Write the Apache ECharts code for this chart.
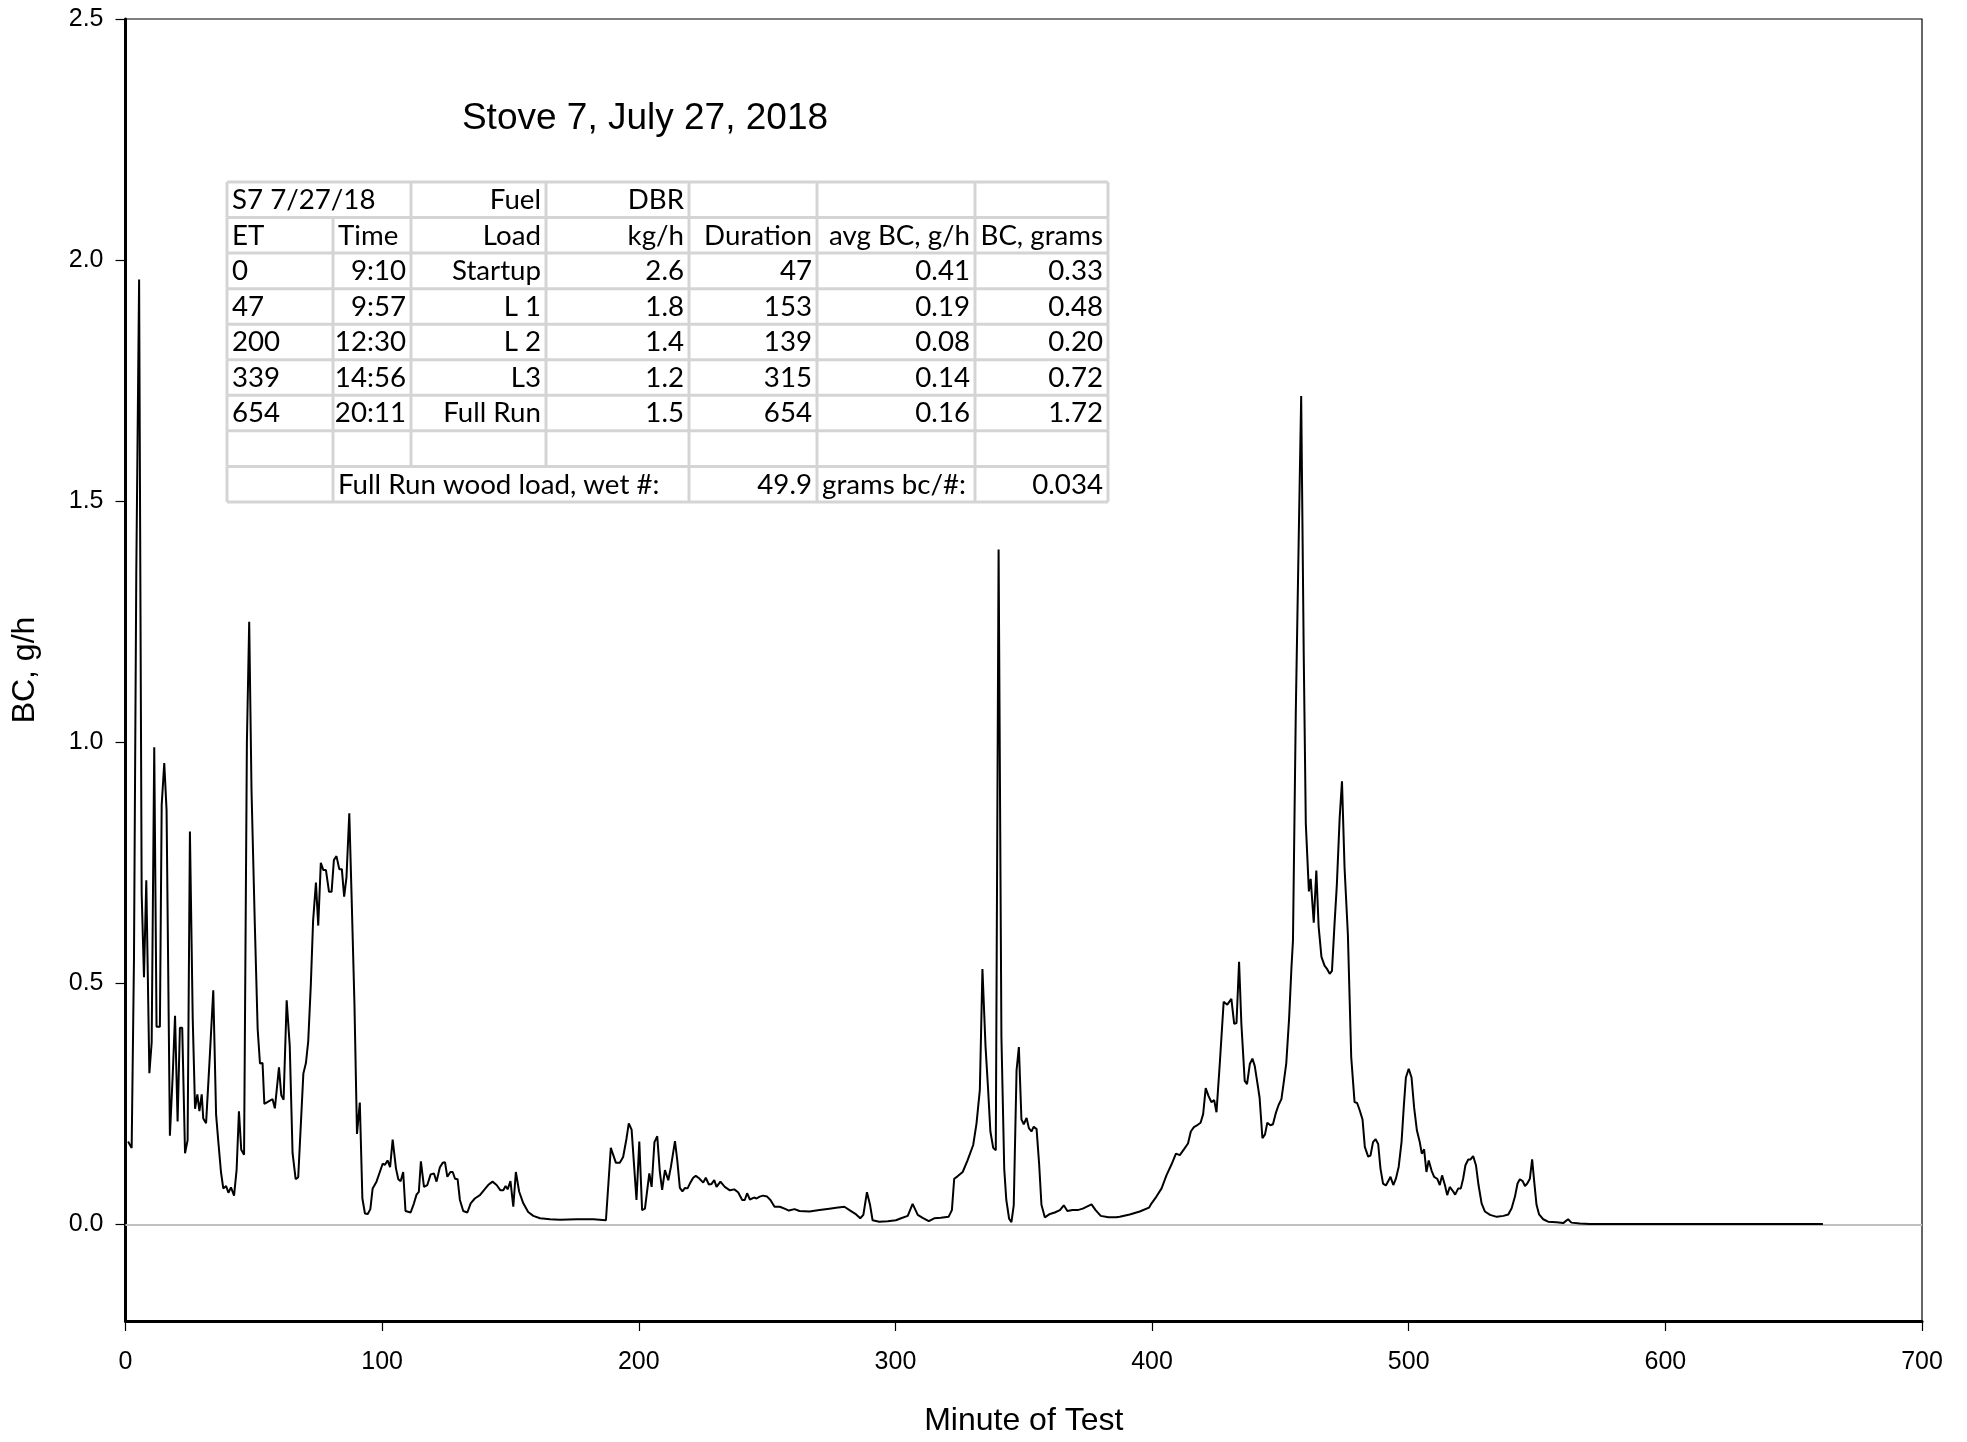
<!DOCTYPE html>
<html>
<head>
<meta charset="utf-8">
<script src="https://cdn.jsdelivr.net/npm/echarts@6/dist/echarts.min.js"></script>
<style>
html,body{margin:0;padding:0;background:#fff;}
#chart{width:1967px;height:1442px;}
</style>
</head>
<body>
<div id="chart"></div>
<script>
// ---------------- data ----------------
const minutes = [
1,2.4,3.3,4.2,5.3,6.3,7.2,8.1,9.3,10.2,11.2,12.1,13.4,14.1,15.1,16.0,17.3,18.4,19.3,20.3,21.2,22.1,23.2,24.2,25.1,26.2,27.1,28.0,28.8,29.7,30.3,31.4,32.9,34.2,35.3,36.2,37.2,38.1,39.2,40.1,41.1,42.3,43.3,44.2,45.1,46.2,47.3,48.2,49.1,50.4,51.5,52.4,53.4,54.1,55.6,57.3,58.2,59.8,60.7,61.6,62.8,64.0,65.1,66.3,67.3,69.3,70.3,71.2,72.2,73.1,74.2,75.1,76.1,77.1,78.1,79.3,80.3,81.2,82.2,83.3,84.3,85.2,86.1,87.2,88.1,89.2,90.2,91.3,92.3,93.3,94.4,95.4,96.3,97.8,99.1,100.2,101.1,102.1,103.1,104.1,105.4,106.3,107.2,108.2,109.1,111.1,112.4,113.4,114.3,115.1,116.3,117.6,118.9,120.2,121.2,122.5,123.6,124.5,125.4,126.6,127.5,128.4,129.4,130.3,131.6,133.2,134.5,136.1,138.1,139.6,141.3,143.0,144.6,146.1,147.2,148.1,148.9,150.0,151.1,152.1,153.4,155.0,156.9,158.9,161.5,165.4,169.3,175.8,182.3,187.2,189.1,191.1,192.6,193.9,195.2,196.1,197.2,199.1,200.2,201.3,202.4,204.1,205.0,206.1,207.2,208.2,209.1,210.2,211.5,212.5,214.1,215.0,216.0,217.0,218.0,219.0,219.9,221.2,222.2,223.5,225.1,226.1,227.3,228.3,229.4,230.3,231.8,233.5,235.5,237.2,238.7,240.3,241.3,242.2,243.3,244.9,245.9,247.1,248.4,250.0,251.3,252.9,254.9,256.8,258.5,260.7,262.6,266.5,270.4,274.3,276.9,280.1,282.7,284.7,286.3,287.5,288.9,290.1,291.1,293.7,297.0,300.2,302.2,304.8,306.7,308.7,310.6,313.0,315.1,317.7,320.7,322.0,322.9,324.2,326.2,328.1,330.3,331.6,332.9,333.9,335.1,336.1,337.0,338.1,339.1,340.2,341.3,342.4,343.2,344.3,345.2,346.1,347.2,348.1,349.1,350.0,351.1,352.0,353.0,353.9,355.0,356.0,356.9,358.2,360.2,362.1,364.1,365.6,367,369,371,373,376.4,378,380,383,386,387.4,391.3,395.2,398.8,399.8,401.7,403.7,405.6,407.6,409.3,410.8,412.4,414.0,415.1,416.3,417.3,418.9,419.9,420.9,421.9,423.1,424.2,425.1,426.4,427.9,429.3,430.9,432.0,432.9,433.9,434.8,436.1,437.0,438.1,439.1,440.0,441.0,441.9,443.0,444.0,444.9,446.1,447.1,448.2,449.3,450.4,451.3,452.3,453.4,454.3,454.9,456.0,457.1,458.1,459.1,459.9,461.1,461.8,463.0,464.0,464.9,466.0,467.2,468.3,469.2,470.1,471.1,472.0,473.1,474.0,475.0,476.3,477.6,478.9,479.9,480.9,482.0,482.9,484.2,485.1,486.1,487.1,488.1,489.0,490.0,491.1,492.0,492.9,494.0,495.0,496.1,497.2,498.1,498.9,500.0,501.1,502.1,503.2,504.3,505.1,506.0,506.9,507.8,508.9,509.9,511.1,512.1,513.0,514.1,515.0,516.0,517.0,518.1,519.3,520.3,521.2,522.1,523.2,524.1,525.1,526.2,527.2,528.4,529.7,531.7,534.3,536.9,538.8,540.1,541.4,542.4,543.3,544.4,545.3,546.2,547.2,548.1,548.9,549.8,550.8,552.4,554.3,557.6,560.2,562.1,563.4,566.7,570.5,580,600,620,640,661.4
];
const bcGph = [
0.172,0.159,0.55,1.35,1.96,0.686,0.513,0.714,0.314,0.378,0.99,0.41,0.41,0.87,0.957,0.86,0.184,0.31,0.433,0.214,0.408,0.408,0.148,0.175,0.815,0.426,0.24,0.27,0.235,0.27,0.22,0.21,0.354,0.486,0.228,0.17,0.109,0.075,0.08,0.066,0.077,0.06,0.114,0.235,0.155,0.145,1.0,1.25,0.90,0.62,0.405,0.334,0.335,0.25,0.255,0.26,0.241,0.326,0.268,0.259,0.465,0.37,0.148,0.094,0.098,0.313,0.335,0.38,0.496,0.63,0.709,0.62,0.75,0.735,0.735,0.69,0.69,0.756,0.764,0.737,0.737,0.68,0.72,0.853,0.68,0.46,0.188,0.253,0.054,0.023,0.022,0.032,0.075,0.089,0.109,0.126,0.124,0.133,0.119,0.176,0.116,0.094,0.09,0.109,0.028,0.025,0.044,0.062,0.068,0.131,0.078,0.082,0.104,0.106,0.089,0.119,0.128,0.129,0.099,0.109,0.109,0.095,0.094,0.051,0.028,0.025,0.044,0.054,0.061,0.071,0.082,0.089,0.082,0.071,0.071,0.08,0.073,0.09,0.037,0.109,0.068,0.044,0.026,0.018,0.013,0.011,0.01,0.011,0.011,0.009,0.159,0.128,0.128,0.14,0.178,0.21,0.197,0.051,0.172,0.03,0.033,0.106,0.078,0.171,0.183,0.109,0.072,0.113,0.092,0.119,0.173,0.133,0.076,0.069,0.076,0.075,0.085,0.097,0.101,0.096,0.087,0.097,0.083,0.084,0.092,0.078,0.089,0.078,0.071,0.073,0.067,0.051,0.051,0.065,0.052,0.056,0.054,0.058,0.06,0.058,0.051,0.037,0.037,0.033,0.029,0.032,0.028,0.027,0.03,0.033,0.035,0.037,0.028,0.021,0.013,0.02,0.067,0.041,0.009,0.006,0.007,0.009,0.013,0.018,0.043,0.02,0.014,0.007,0.013,0.014,0.016,0.03,0.095,0.1,0.109,0.133,0.165,0.21,0.28,0.53,0.37,0.281,0.193,0.159,0.154,1.40,0.389,0.115,0.051,0.012,0.005,0.04,0.32,0.368,0.218,0.208,0.221,0.2,0.193,0.203,0.198,0.125,0.041,0.015,0.022,0.025,0.03,0.04,0.028,0.03,0.03,0.033,0.042,0.03,0.018,0.015,0.015,0.016,0.021,0.027,0.035,0.044,0.058,0.075,0.102,0.125,0.147,0.144,0.156,0.168,0.193,0.202,0.205,0.211,0.229,0.283,0.268,0.254,0.258,0.233,0.335,0.462,0.456,0.468,0.416,0.418,0.545,0.416,0.298,0.291,0.333,0.344,0.329,0.295,0.263,0.179,0.187,0.211,0.206,0.208,0.231,0.248,0.26,0.295,0.335,0.428,0.532,0.589,1.063,1.41,1.718,1.179,0.832,0.691,0.717,0.626,0.734,0.618,0.555,0.537,0.529,0.52,0.526,0.624,0.705,0.844,0.919,0.74,0.601,0.347,0.254,0.252,0.237,0.218,0.161,0.141,0.143,0.171,0.177,0.167,0.116,0.085,0.081,0.09,0.099,0.082,0.095,0.12,0.171,0.246,0.305,0.323,0.305,0.243,0.195,0.171,0.147,0.156,0.109,0.133,0.112,0.099,0.095,0.082,0.102,0.082,0.061,0.078,0.071,0.062,0.075,0.075,0.095,0.123,0.135,0.135,0.142,0.123,0.082,0.044,0.027,0.02,0.016,0.018,0.021,0.034,0.058,0.085,0.094,0.09,0.08,0.085,0.095,0.135,0.089,0.041,0.021,0.011,0.006,0.005,0.003,0.011,0.004,0.002,0.001,0.001,0.001,0.001,0.001,0.001
];
const yTicks = [0, 0.5, 1.0, 1.5, 2.0, 2.5];
const chartTitle = "Stove 7, July 27, 2018";
const xName = "Minute of Test";
const yName = "BC, g/h";

// summary table (text content)
const tableRows = [
  ["S7 7/27/18", "", "Fuel", "DBR", "", "", ""],
  ["ET", "Time", "Load", "kg/h", "Duration", "avg BC, g/h", "BC, grams"],
  ["0", "9:10", "Startup", "2.6", "47", "0.41", "0.33"],
  ["47", "9:57", "L 1", "1.8", "153", "0.19", "0.48"],
  ["200", "12:30", "L 2", "1.4", "139", "0.08", "0.20"],
  ["339", "14:56", "L3", "1.2", "315", "0.14", "0.72"],
  ["654", "20:11", "Full Run", "1.5", "654", "0.16", "1.72"],
  ["", "", "", "", "", "", ""],
  ["", "Full Run wood load, wet #:", "", "", "49.9", "grams bc/#:", "0.034"]
];
const tableAlign = [
  ["l", "l", "r", "r", "r", "r", "r"],
  ["l", "l", "r", "r", "r", "r", "r"],
  ["l", "r", "r", "r", "r", "r", "r"],
  ["l", "r", "r", "r", "r", "r", "r"],
  ["l", "r", "r", "r", "r", "r", "r"],
  ["l", "r", "r", "r", "r", "r", "r"],
  ["l", "r", "r", "r", "r", "r", "r"],
  ["l", "l", "l", "l", "l", "l", "l"],
  ["l", "l", "l", "l", "r", "l", "r"]
];
// cells whose left border is omitted (merged with previous cell): [row, col]
const mergedLeft = [[0, 1], [8, 2], [8, 3]];

// ---------------- layout ----------------
const colEdges = [227, 333, 411, 546, 689, 817, 975, 1108];
const rowTop = 182, rowH = 35.55;
const tableFont = "Lato, 'Open Sans', sans-serif";
const tableFontSize = 26;

// measure to stretch table text horizontally like the original
const cv = document.createElement('canvas').getContext('2d');
cv.font = tableFontSize + "px " + tableFont;
const sx = 141 / cv.measureText("avg BC, g/h").width;

const graphics = [];
const borderColor = '#d4d4d4';
const nRows = tableRows.length;
// horizontal lines
for (let r = 0; r <= nRows; r++) {
  graphics.push({type:'line', silent:true, z:10,
    shape:{x1:colEdges[0], y1:rowTop + r*rowH, x2:colEdges[colEdges.length-1], y2:rowTop + r*rowH},
    style:{stroke:borderColor, lineWidth:3}});
}
// vertical segments
const isMerged = (r,c) => mergedLeft.some(m => m[0]===r && m[1]===c);
for (let r = 0; r < nRows; r++) {
  for (let c = 0; c < colEdges.length; c++) {
    if (isMerged(r,c)) continue;
    graphics.push({type:'line', silent:true, z:10,
      shape:{x1:colEdges[c], y1:rowTop + r*rowH, x2:colEdges[c], y2:rowTop + (r+1)*rowH},
      style:{stroke:borderColor, lineWidth:3}});
  }
}
// text
for (let r = 0; r < nRows; r++) {
  for (let c = 0; c < 7; c++) {
    const t = tableRows[r][c];
    if (!t) continue;
    const al = tableAlign[r][c];
    const x = al === 'l' ? colEdges[c] + 5 : colEdges[c+1] - 5;
    graphics.push({type:'text', silent:true, z:11,
      x: x, y: rowTop + r*rowH + rowH/2 + 1, scaleX: sx,
      style:{text:t, x:0, y:0, fill:'#000', font: tableFontSize + "px " + tableFont,
        textAlign: al === 'l' ? 'left' : 'right', textVerticalAlign:'middle'}});
  }
}
// chart title
graphics.push({type:'text', silent:true, z:11, x:645, y:119,
  style:{text:chartTitle, x:0, y:0, fill:'#000', font:"37px 'Liberation Sans', Arial, sans-serif",
    textAlign:'center', textVerticalAlign:'middle'}});

const chart = echarts.init(document.getElementById('chart'), null, {renderer:'canvas'});
const axisFont = "'Liberation Sans', Arial, sans-serif";
chart.setOption({
  animation: false,
  backgroundColor: '#fff',
  grid: {left:125.5, right:45, top:19, bottom:112, show:true, borderColor:'#000', borderWidth:1.2, backgroundColor:'transparent'},
  xAxis: {
    type:'value', min:0, max:700, interval:100,
    name: xName, nameLocation:'middle', nameGap:84,
    nameTextStyle:{fontFamily:axisFont, fontSize:32, color:'#000'},
    axisLine:{show:true, onZero:false, lineStyle:{color:'#000', width:3}},
    axisTick:{show:true, inside:false, length:10, lineStyle:{color:'#000', width:1.2}},
    axisLabel:{fontFamily:axisFont, fontSize:25, color:'#000', margin:29},
    splitLine:{show:false}
  },
  yAxis: {
    type:'value', min:-0.2, max:2.5,
    name: yName, nameLocation:'middle', nameGap:84, nameRotate:90,
    nameTextStyle:{fontFamily:axisFont, fontSize:32, color:'#000'},
    axisLine:{show:true, onZero:false, lineStyle:{color:'#000', width:3}},
    axisTick:{show:true, inside:false, length:10, customValues:yTicks, lineStyle:{color:'#000', width:1.2}},
    axisLabel:{fontFamily:axisFont, fontSize:25, color:'#000', margin:22, customValues:yTicks,
      formatter: v => Number(v).toFixed(1)},
    splitLine:{show:false}
  },
  series: [{
    type:'line',
    data: minutes.map((m,i) => [m, bcGph[i]]),
    showSymbol:false, symbol:'none',
    lineStyle:{color:'#000', width:2},
    z:5,
    markLine:{
      silent:true, symbol:['none','none'], label:{show:false},
      lineStyle:{color:'#c0c0c0', width:2, type:'solid'},
      data:[{yAxis:0}], z:1
    }
  }],
  graphic: graphics
});
</script>
</body>
</html>
